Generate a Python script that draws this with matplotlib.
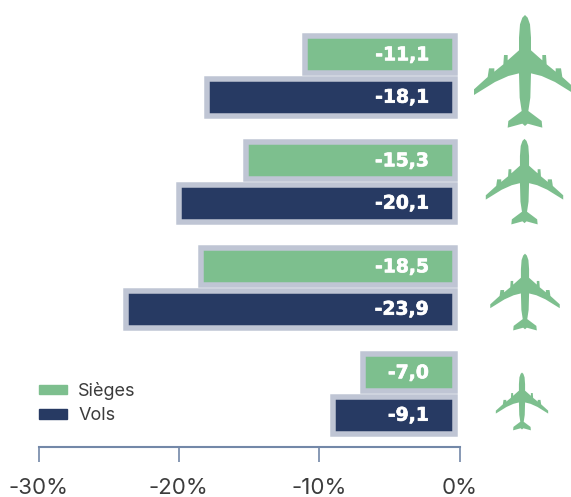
import matplotlib
matplotlib.use("Agg")
import matplotlib.pyplot as plt
import matplotlib.patheffects as pe
from matplotlib.patches import Patch, PathPatch
from matplotlib.path import Path
from matplotlib.transforms import Affine2D
import numpy as np

plt.rcParams['font.family'] = ['Inter', 'DejaVu Sans']

sieges = [-11.1, -15.3, -18.5, -7.0]
vols = [-18.1, -20.1, -23.9, -9.1]
ticks = [-30, -20, -10, 0]
tick_labels = ['-30%', '-20%', '-10%', '0%']
GREEN, NAVY, FRAME, AXIS, TEXT = '#7DBF8E', '#273A63', '#BFC5D4', '#7388A8', '#3C3C3C'

W, H = 571, 497
fig = plt.figure(figsize=(W/100, H/100), dpi=100)
ax = fig.add_axes([38.5/W, (H-447)/H, 421/W, 447/H])
ax.set_xlim(-30, 0)
ax.set_ylim(3.5, -0.717)
ax.patch.set_alpha(0)

lw = 5.5*0.72
h = (42.5-5.5)/106
off = 21.2/106
rows = np.arange(4)
for vals, color, d in [(sieges, GREEN, -off), (vols, NAVY, off)]:
    for r, v in zip(rows, vals):
        ax.barh(r+d, v+0.4, left=-0.3, height=h, color=color,
                edgecolor=FRAME, linewidth=lw, joinstyle='miter', zorder=2)
        s = f"{v:.1f}".replace('.', ',')
        t = ax.text(-2.2, r+d, s, color='white', fontsize=13.5, fontweight='bold',
                    family='DejaVu Sans', ha='right', va='center', zorder=3)
        t.set_path_effects([pe.withStroke(linewidth=0.5, foreground='white')])

for s in ['top', 'left', 'right']:
    ax.spines[s].set_visible(False)
ax.spines['bottom'].set_color(AXIS)
ax.spines['bottom'].set_linewidth(1.5)
ax.set_yticks([])
ax.set_xticks(ticks, tick_labels)
ax.tick_params(axis='x', length=11, width=1.2, color=AXIS, labelcolor=TEXT,
               labelsize=16, pad=11, direction='out')

leg = ax.legend(handles=[Patch(color=GREEN, label='Sièges'), Patch(color=NAVY, label='Vols')],
                loc='upper left', bbox_to_anchor=(0.0, 1-382/447),
                frameon=False, fontsize=13, handlelength=1.6, handleheight=0.45,
                handletextpad=0.6, labelspacing=0.4, borderpad=0, borderaxespad=0,
                labelcolor=TEXT)

half = [(0,42),(8,50),(15,70),(18,110),(18,148),(45,172),(52,178),(52,162),(63,162),(65,190),
        (92,212),(92,202),(108,202),(112,228),(153,265),(153,282),(90,243),(50,225),(18,217),
        (16,290),(10,330),(50,360),(52,380),(8,368),(0,375)]
outline = half + [(-x, y) for x, y in half[-2:0:-1]]
plane = np.array(outline, float)
plane[:, 1] -= 208.5
path = Path(np.vstack([plane, plane[:1]]), closed=True)

plane_centers = [(525, 70.5), (524.5, 181), (525, 291.5), (522, 401)]
plane_scales = [1/3, 0.253, 0.227, 0.171]
for (cx, cy), sc in zip(plane_centers, plane_scales):
    t = Affine2D().scale(sc, -sc).translate(cx, H-cy)
    fig.add_artist(PathPatch(path, transform=t, facecolor=GREEN, edgecolor='none', clip_on=False))

fig.savefig('out.png', dpi=100)
